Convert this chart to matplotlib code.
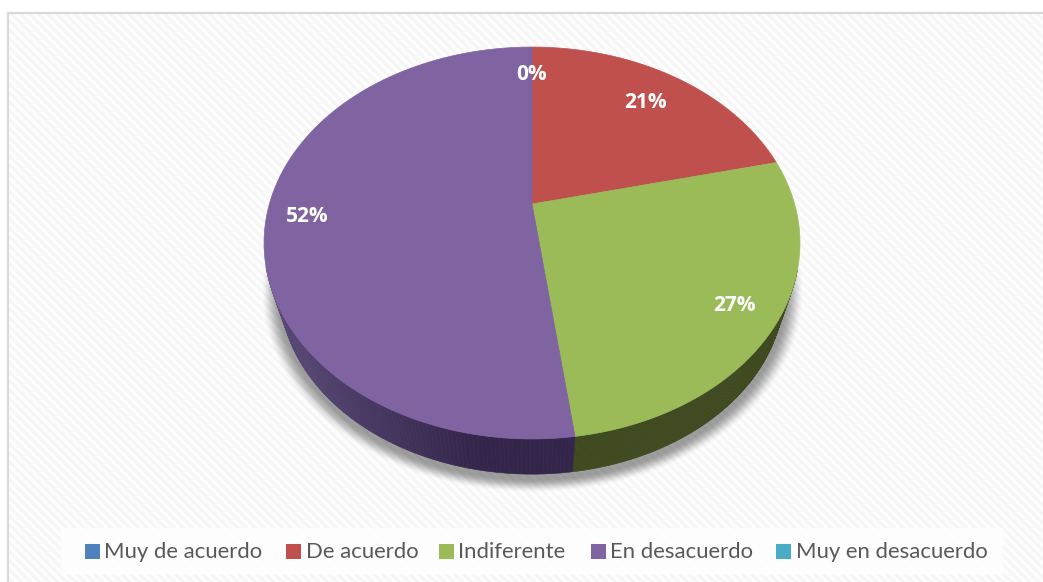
import numpy as np
import matplotlib
matplotlib.use('Agg')
import matplotlib.pyplot as plt
from matplotlib.colors import to_rgb
from matplotlib.patches import Rectangle, Polygon
from matplotlib.collections import PolyCollection

categories = ['Muy de acuerdo', 'De acuerdo', 'Indiferente', 'En desacuerdo', 'Muy en desacuerdo']
values = [0, 21.3, 26.6, 52.1, 0]
colors = ['#4f81bd', '#c0504d', '#9bbb59', '#8064a2', '#4bacc6']
side_colors = ['#2a4162', '#642826', '#3f4a20', '#33264a', '#215866']
label_radius = [0.81, 0.78, 0.845, 0.85, 0.8]
legend_box_x = [85, 286, 439, 591, 776]

W, H = 1043, 582
CX = 532
TILT = 0.199


def project(angle, r, cy, a, b):
    # circle to screen with a bit of perspective, angle clockwise from the top
    u = r * np.sin(angle)
    v = r * np.cos(angle)
    w = 1 + TILT * v
    return CX + a * u / w, cy - b * v / w


def top_pt(angle, r=1.0):
    return project(angle, r, 204, 262.6, 188.2)


def bottom_pt(angle):
    return project(angle, 1.0, 253.3, 262.6 * 0.94, 188.2 * 0.94)


fig = plt.figure(figsize=(W / 100, H / 100), dpi=100)
ax = fig.add_axes([0, 0, 1, 1])
ax.set_xlim(0, W)
ax.set_ylim(H, 0)
ax.axis('off')

# striped background
xx, yy = np.meshgrid(np.arange(W), np.arange(H))
stripes = 0.978 + 0.018 * np.sin(2 * np.pi * (xx - yy) / 9.0)
stripes[:13, :] = 1.0
stripes[:, :8] = 1.0
ax.imshow(stripes, cmap='gray', vmin=0, vmax=1, extent=(0, W, H, 0), aspect='auto', zorder=0)
ax.plot([8, 8, W], [H, 13, 13], color='#d9d9d9', lw=1.6, zorder=1)

# soft shadow under the pie
d = np.sqrt(((xx - CX) / 259.0) ** 2 + ((yy - 292.0) / 191.0) ** 2)
t = np.clip((1.05 - d) / 0.075, 0, 1)
shadow = np.zeros((H, W, 4))
shadow[..., 3] = 0.38 * t * t * (3 - 2 * t)
ax.imshow(shadow, extent=(0, W, H, 0), aspect='auto', zorder=2)

# side walls, then top faces
total = sum(values)
fractions = np.cumsum([0] + values) / total * 2 * np.pi
for i, val in enumerate(values):
    if val == 0:
        continue
    angles = np.linspace(fractions[i], fractions[i + 1], 240)
    tx, ty = top_pt(angles)
    bx, by = bottom_pt(angles)
    quads = []
    face = []
    base = np.array(to_rgb(side_colors[i]))
    light = np.array(to_rgb('#5b4a78'))
    for j in range(len(angles) - 1):
        # wall only shows where the bottom rim is outside the top face
        if ((bx[j] - CX) / 268.0) ** 2 + ((by[j] - 243) / 196.0) ** 2 < 1:
            continue
        quads.append([(tx[j], ty[j]), (tx[j + 1], ty[j + 1]), (bx[j + 1], by[j + 1]), (bx[j], by[j])])
        if i == 3:
            s = np.clip((480 - bx[j]) / 197.0, 0, 1)
            face.append(base + (light - base) * s)
        else:
            face.append(base)
    ax.add_collection(PolyCollection(quads, facecolors=face, edgecolors=face, linewidths=0.4, zorder=3))

for i, val in enumerate(values):
    if val == 0:
        continue
    angles = np.linspace(fractions[i], fractions[i + 1], 240)
    tx, ty = top_pt(angles)
    pts = [(CX, 204)] + list(zip(tx, ty))
    ax.add_patch(Polygon(pts, closed=True, facecolor=colors[i], edgecolor=colors[i], lw=0.5, zorder=4))

# percent labels
for i, val in enumerate(values[:4]):
    mid = (fractions[i] + fractions[i + 1]) / 2
    lx, ly = top_pt(mid, label_radius[i])
    ax.text(lx, ly + 1.5, f'{val:.0f}%', color='white', fontsize=15, fontweight='bold', family='Open Sans',
            ha='center', va='center', zorder=6)

# legend
ax.add_patch(Rectangle((61, 528), 942, 46, facecolor='white', alpha=0.85, edgecolor='none', zorder=5))
for name, c, x in zip(categories, colors, legend_box_x):
    ax.add_patch(Rectangle((x, 544), 14.5, 15, facecolor=c, edgecolor='none', zorder=6))
    ax.text(x + 19.5, 551.5, name, color='#595959', fontsize=15.9, family='Lato',
            ha='left', va='center', zorder=6)

fig.savefig('out.png', dpi=100)
